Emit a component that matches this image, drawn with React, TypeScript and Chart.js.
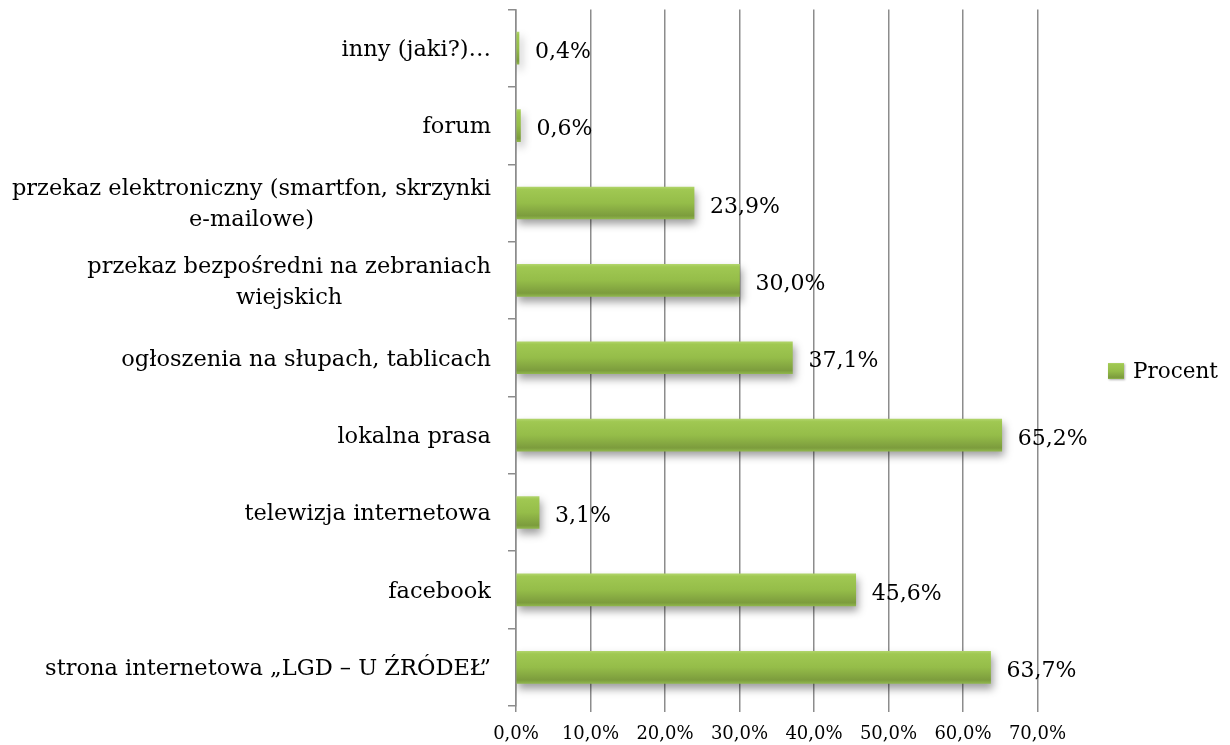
import React, { useEffect, useRef } from "react";
import { Chart, registerables } from "chart.js";
Chart.register(...registerables);

const categories: (string | string[])[] = [
  "inny (jaki?)…",
  "forum",
  ["przekaz elektroniczny (smartfon, skrzynki", "e-mailowe)"],
  ["przekaz bezpośredni na zebraniach", "wiejskich"],
  "ogłoszenia na słupach, tablicach",
  "lokalna prasa",
  "telewizja internetowa",
  "facebook",
  "strona internetowa „LGD – U ŹRÓDEŁ”",
];
const values = [0.4, 0.6, 23.9, 30.0, 37.1, 65.2, 3.1, 45.6, 63.7];
const seriesName = "Procent";
const axisMin = 0;
const axisMax = 70;
const axisStep = 10;

const FONT = "'DejaVu Serif', serif";
const GRID = "#8c8c8c";
const BAR_T = 32;

const fmt = (v: number) => v.toFixed(1).replace(".", ",") + "%";

function barGradient(ctx: CanvasRenderingContext2D, top: number, h: number) {
  const g = ctx.createLinearGradient(0, top, 0, top + h);
  g.addColorStop(0, "#b0d46a");
  g.addColorStop(0.08, "#a0c852");
  g.addColorStop(0.5, "#95bd49");
  g.addColorStop(0.9, "#7c9c3d");
  g.addColorStop(1, "#8fb64c");
  return g;
}

const customPlugin = {
  id: "custom",
  beforeDatasetsDraw(chart: any) {
    const ctx = chart.ctx;
    ctx.save();
    ctx.shadowColor = "rgba(0,0,0,0.38)";
    ctx.shadowBlur = 8;
    ctx.shadowOffsetX = 2;
    ctx.shadowOffsetY = 5;
  },
  afterDatasetsDraw(chart: any) {
    const ctx = chart.ctx;
    ctx.restore();
    const meta = chart.getDatasetMeta(0);
    ctx.save();
    ctx.font = `22px ${FONT}`;
    ctx.fillStyle = "#000";
    ctx.textAlign = "left";
    ctx.textBaseline = "middle";
    meta.data.forEach((el: any, i: number) => {
      ctx.fillText(fmt(values[i]), el.x + 16, el.y + 4);
    });
    ctx.restore();
  },
  afterDraw(chart: any) {
    const ctx = chart.ctx;
    const ys = chart.scales.y;
    ctx.save();
    ctx.font = `22.5px ${FONT}`;
    ctx.fillStyle = "#000";
    ctx.textBaseline = "middle";
    ctx.textAlign = "center";
    const right = chart.chartArea.left - 25;
    const lh = 31;
    categories.forEach((c, i) => {
      const lines = Array.isArray(c) ? c : [c];
      const w = Math.max(...lines.map((l) => ctx.measureText(l).width));
      const cx = right - w / 2;
      const cy = ys.getPixelForValue(i);
      const y0 = cy - ((lines.length - 1) * lh) / 2 + 2;
      lines.forEach((l, k) => ctx.fillText(l, cx, y0 + k * lh));
    });
    // legend
    const lx = 1108, ly = 363, ls = 16;
    ctx.shadowColor = "rgba(0,0,0,0.3)";
    ctx.shadowBlur = 2;
    ctx.shadowOffsetX = 1;
    ctx.shadowOffsetY = 1;
    ctx.fillStyle = barGradient(ctx, ly, ls);
    ctx.fillRect(lx, ly, ls, ls);
    ctx.shadowColor = "transparent";
    ctx.fillStyle = "#000";
    ctx.textAlign = "left";
    ctx.font = `21.5px ${FONT}`;
    ctx.fillText(seriesName, lx + ls + 9, ly + ls / 2 + 1);
    ctx.restore();
  },
};

export default function App() {
  const ref = useRef<HTMLCanvasElement | null>(null);
  useEffect(() => {
    if (!ref.current) return;
    const chart = new Chart(ref.current, {
      type: "bar",
      data: {
        labels: categories as any,
        datasets: [
          {
            label: seriesName,
            data: values,
            barThickness: BAR_T,
            borderWidth: 0,
            backgroundColor: (c: any) => {
              const ch = c.chart;
              const ys = ch.scales?.y;
              if (!ys || c.dataIndex === undefined) return "#94bd48";
              const cy = ys.getPixelForValue(c.dataIndex);
              if (!isFinite(cy)) return "#94bd48";
              return barGradient(ch.ctx, cy - BAR_T / 2, BAR_T);
            },
          },
        ],
      },
      options: {
        indexAxis: "y",
        animation: false,
        responsive: false,
        maintainAspectRatio: false,
        layout: { padding: { top: 9.5, right: 192.5, left: 0, bottom: 0 } },
        plugins: {
          legend: { display: false },
          tooltip: { enabled: false },
        },
        scales: {
          x: {
            min: axisMin,
            max: axisMax,
            afterFit: (s: any) => {
              s.height = 39;
            },
            ticks: {
              stepSize: axisStep,
              color: "#000",
              font: { family: FONT, size: 18 },
              padding: 12,
              callback: (v: any) => fmt(Number(v)),
            },
            grid: {
              color: GRID,
              lineWidth: 1.5,
              tickLength: 6,
              drawOnChartArea: true,
            },
            border: { display: false },
          },
          y: {
            afterFit: (s: any) => {
              s.width = 516;
            },
            ticks: { display: false },
            grid: {
              color: GRID,
              lineWidth: 1.5,
              tickLength: 8,
              drawOnChartArea: false,
              offset: true,
            },
            border: { display: true, color: GRID, width: 1.5 },
          },
        },
      },
      plugins: [customPlugin],
    });
    return () => chart.destroy();
  }, []);
  return (
    <div style={{ position: "fixed", left: 0, top: 0, width: 1230, height: 745, background: "#fff" }}>
      <canvas ref={ref} width={1230} height={745} style={{ width: 1230, height: 745 }} />
    </div>
  );
}
